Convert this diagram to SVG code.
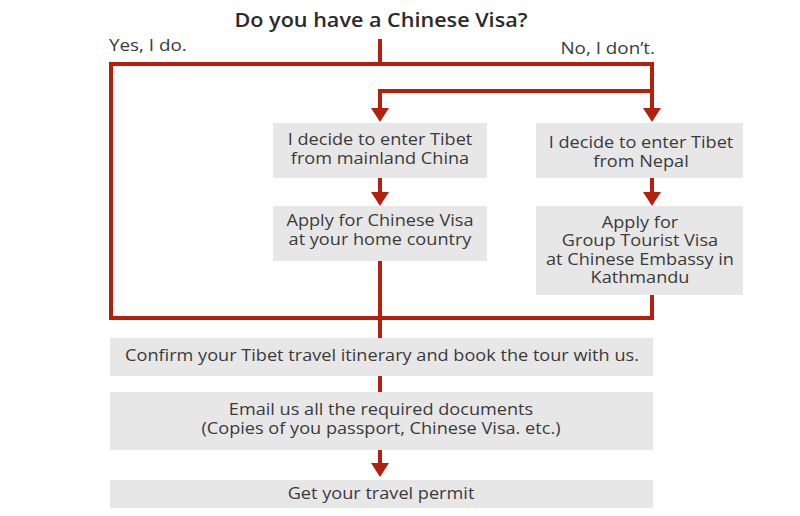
<svg xmlns="http://www.w3.org/2000/svg" width="800" height="516" viewBox="0 0 800 516">
<style>
.box{fill:#e7e7e7}
.t{font-family:"Open Sans","Noto Sans",sans-serif;font-size:15.5px;fill:#3a3a3a;text-anchor:middle}
.lbl{font-family:"Open Sans","Noto Sans",sans-serif;font-size:16.5px;fill:#3a3a3a}
.title{font-family:"Open Sans","Noto Sans",sans-serif;font-size:20px;font-weight:600;fill:#2a2a2a;text-anchor:middle}
.c{fill:none;stroke:#b3200e;stroke-width:4;stroke-linejoin:miter}
</style>
<defs>
<marker id="ah" markerUnits="userSpaceOnUse" markerWidth="16" markerHeight="20" refX="0" refY="9" orient="auto" viewBox="0 0 16 18">
<path d="M0,0 L14,9 L0,18 z" fill="#b3200e"/>
</marker>
</defs>
<text class="title" transform="translate(381,27) scale(1.08,1)">Do you have a Chinese Visa?</text>
<text class="lbl" transform="translate(109,51) scale(1.14,1)">Yes, I do.</text>
<text class="lbl" transform="translate(655,54) scale(1.14,1)" text-anchor="end">No, I don’t.</text>
<g id="connectors">
<path class="c" d="M380,39 V64"/>
<path class="c" d="M652,295 V318 H111 V64 H652 V108" marker-end="url(#ah)"/>
<path class="c" d="M652,91 H380 V108" marker-end="url(#ah)"/>
<path class="c" d="M380,178 V192" marker-end="url(#ah)"/>
<path class="c" d="M652,178 V192" marker-end="url(#ah)"/>
<path class="c" d="M380,261 V338"/>
<path class="c" d="M380,376 V392"/>
<path class="c" d="M380,450 V463" marker-end="url(#ah)"/>
</g>
<g id="n1">
<rect class="box" x="273" y="123" width="214" height="55"/>
<text class="t" transform="translate(380,145) scale(1.17,1)">I decide to enter Tibet</text>
<text class="t" transform="translate(380,163.5) scale(1.17,1)">from mainland China</text>
</g>
<g id="n2">
<rect class="box" x="273" y="206" width="214" height="55"/>
<text class="t" transform="translate(380,226) scale(1.17,1)">Apply for Chinese Visa</text>
<text class="t" transform="translate(380,244.5) scale(1.17,1)">at your home country</text>
</g>
<g id="n3">
<rect class="box" x="536" y="123" width="207" height="55"/>
<text class="t" transform="translate(641,148) scale(1.17,1)">I decide to enter Tibet</text>
<text class="t" transform="translate(641,166.5) scale(1.17,1)">from Nepal</text>
</g>
<g id="n4">
<rect class="box" x="536" y="206" width="207" height="89"/>
<text class="t" transform="translate(640,227.5) scale(1.17,1)">Apply for</text>
<text class="t" transform="translate(640,246) scale(1.17,1)">Group Tourist Visa</text>
<text class="t" transform="translate(640,264.5) scale(1.17,1)">at Chinese Embassy in</text>
<text class="t" transform="translate(640,283) scale(1.17,1)">Kathmandu</text>
</g>
<g id="n5">
<rect class="box" x="110" y="338" width="543" height="38"/>
<text class="t" transform="translate(382,361) scale(1.17,1)">Confirm your Tibet travel itinerary and book the tour with us.</text>
</g>
<g id="n6">
<rect class="box" x="110" y="392" width="543" height="58"/>
<text class="t" transform="translate(381,415) scale(1.17,1)">Email us all the required documents</text>
<text class="t" transform="translate(381,434) scale(1.17,1)">(Copies of you passport, Chinese Visa. etc.)</text>
</g>
<g id="n7">
<rect class="box" x="110" y="480" width="543" height="28"/>
<text class="t" transform="translate(381,498.5) scale(1.17,1)">Get your travel permit</text>
</g>
</svg>
